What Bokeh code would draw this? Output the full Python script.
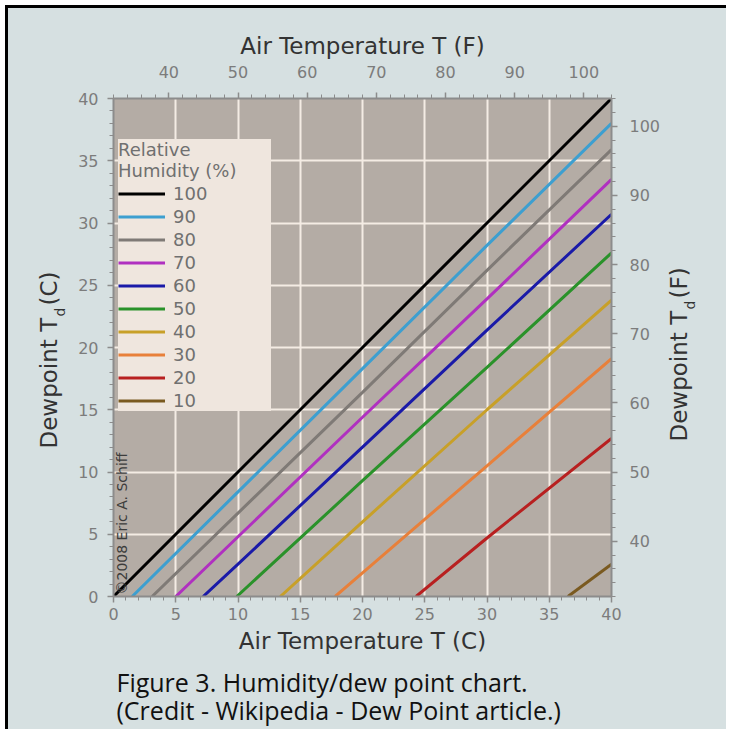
import math
from bokeh.plotting import figure
from bokeh.layouts import row, column
from bokeh.models import Range1d, LinearAxis, Label, Legend, LegendItem, FixedTicker
from bokeh.embed import file_html
from bokeh.resources import INLINE

# ---- data: air temperature T (C) vs dewpoint Td (C) ----
rh_levels = [100, 90, 80, 70, 60, 50, 40, 30, 20, 10]
colors = ["#000000", "#3d9fd0", "#7f7a76", "#b030c0", "#1a1aa8",
          "#2a922a", "#c8a028", "#e8803a", "#b82020", "#7a5a20"]

t_100 = [0, 10, 20, 30, 40];        td_100 = [0, 10, 20, 30, 40]
t_90 = [1.5, 10, 20, 30, 40];       td_90 = [0, 8.4, 18.3, 28.2, 38.0]
t_80 = [3.1, 10, 20, 30, 40];       td_80 = [0, 6.7, 16.4, 26.2, 35.9]
t_70 = [5.0, 10, 20, 30, 40];       td_70 = [0, 4.8, 14.4, 23.9, 33.5]
t_60 = [7.2, 10, 20, 30, 40];       td_60 = [0, 2.6, 12.0, 21.4, 30.7]
t_50 = [9.9, 20, 30, 40];           td_50 = [0, 9.3, 18.4, 27.6]
t_40 = [13.4, 20, 30, 40];          td_40 = [0, 6.0, 15.0, 23.8]
t_30 = [17.8, 20, 30, 40];          td_30 = [0, 1.9, 10.5, 19.1]
t_20 = [24.3, 30, 40];              td_20 = [0, 4.7, 12.7]
t_10 = [36.5, 40];                  td_10 = [0, 2.6]

series_t = [t_100, t_90, t_80, t_70, t_60, t_50, t_40, t_30, t_20, t_10]
series_td = [td_100, td_90, td_80, td_70, td_60, td_50, td_40, td_30, td_20, td_10]

c_ticks = [0, 5, 10, 15, 20, 25, 30, 35, 40]
c_minor = list(range(0, 41, 1))
f_ticks = [40, 50, 60, 70, 80, 90, 100]
f_minor = list(range(32, 105, 2))

BG = "#d6e0e1"
FRAME = "#b4aca5"
TICK_COL = "#7c7c7c"
TITLE_COL = "#333333"
FONT = "DejaVu Sans"
B_TOP, B_BOT, FRAME_PX = 90, 66, 498
ROW_H = B_TOP + FRAME_PX + B_BOT
TOTAL_W = 718
MAIN_W = 595
CAP_H = 721 - ROW_H
BG_STYLE = {"background-color": BG}

# ---------------- main chart ----------------
p = figure(title=None, width=MAIN_W, height=ROW_H,
           frame_width=FRAME_PX, frame_height=FRAME_PX,
           min_border_left=45, min_border_right=52,
           min_border_top=B_TOP, min_border_bottom=B_BOT,
           x_range=Range1d(0, 40), y_range=Range1d(0, 40),
           output_backend="svg", toolbar_location=None,
           background_fill_color=FRAME, border_fill_color=BG,
           x_axis_label="Air Temperature T (C)", styles=BG_STYLE)
p.outline_line_color = None
p.extra_x_ranges = {"F": Range1d(32, 104)}
p.extra_y_ranges = {"F": Range1d(32, 104)}

p.grid.grid_line_color = "#f4ece4"
p.grid.grid_line_width = 2
p.xgrid.ticker = FixedTicker(ticks=c_ticks)
p.ygrid.ticker = FixedTicker(ticks=c_ticks)

top_ax = LinearAxis(x_range_name="F", axis_label="Air Temperature T (F)")
right_ax = LinearAxis(y_range_name="F")
p.add_layout(top_ax, "above")
p.add_layout(right_ax, "right")

for ax in [p.xaxis[0], p.yaxis[0]]:
    ax.ticker = FixedTicker(ticks=c_ticks, minor_ticks=c_minor)
for ax in [top_ax, right_ax]:
    ax.ticker = FixedTicker(ticks=f_ticks, minor_ticks=f_minor)

for ax in p.xaxis + p.yaxis:
    ax.axis_line_color = "#8c8c8c"
    ax.axis_line_width = 2
    ax.major_tick_line_color = "#8c8c8c"
    ax.minor_tick_line_color = "#8c8c8c"
    ax.major_tick_out = 6
    ax.major_tick_in = 0
    ax.minor_tick_out = 4
    ax.minor_tick_in = 0
    ax.major_tick_line_width = 1.5
    ax.major_label_text_color = TICK_COL
    ax.major_label_text_font = FONT
    ax.major_label_text_font_size = "16px"
    ax.axis_label_text_color = TITLE_COL
    ax.axis_label_text_font = FONT
    ax.axis_label_text_font_size = "23px"
    ax.axis_label_text_font_style = "normal"

p.xaxis[0].major_label_standoff = 11
p.xaxis[0].axis_label_standoff = 0
top_ax.major_label_standoff = 15
top_ax.axis_label_standoff = 4
p.yaxis[0].major_label_standoff = 9
right_ax.major_label_standoff = 12

items = []
for rh, col, tx, ty in zip(rh_levels, colors, series_t, series_td):
    r = p.line(tx, ty, line_color=col, line_width=3)
    items.append(LegendItem(label=str(rh), renderers=[r]))

legend = Legend(items=items, location=(5, 185), margin=0,
                background_fill_color="#efe6de", background_fill_alpha=1.0,
                border_line_color=None,
                title="Relative\nHumidity (%)      ",
                title_text_font=FONT, title_text_font_size="18px",
                title_text_color="#707070", title_text_font_style="normal",
                title_standoff=2,
                label_text_font=FONT, label_text_font_size="18px",
                label_text_color="#707070",
                glyph_width=47, glyph_height=21, label_height=21,
                spacing=2, padding=17, label_standoff=8)
p.add_layout(legend, "center")

p.add_layout(Label(x=8, y=2, x_units="screen", y_units="screen",
                   text="\u00a92008 Eric A. Schiff", angle=math.pi / 2,
                   text_font=FONT, text_font_size="14px",
                   text_color="#3c3c3c", text_align="left",
                   text_baseline="middle"))


# ---------------- strips carrying texts outside the plot frame ----------------
def strip(width, height, top=0, bottom=0):
    s = figure(title=None, width=width, height=height,
               min_border_left=0, min_border_right=0,
               min_border_top=top, min_border_bottom=bottom,
               x_range=Range1d(0, 1), y_range=Range1d(0, 1),
               x_axis_location=None, y_axis_location=None,
               output_backend="svg", toolbar_location=None,
               background_fill_color=BG, border_fill_color=BG, styles=BG_STYLE)
    s.outline_line_color = None
    s.grid.visible = False
    return s


def side_title(s, x, y, unit):
    main_len = 131
    s.add_layout(Label(x=x, y=y, x_units="screen", y_units="screen",
                       text="Dewpoint T", angle=math.pi / 2,
                       text_font=FONT, text_font_size="23px",
                       text_color=TITLE_COL, text_align="left",
                       text_baseline="alphabetic"))
    s.add_layout(Label(x=x + 11, y=y + main_len + 1, x_units="screen", y_units="screen",
                       text="d", angle=math.pi / 2,
                       text_font=FONT, text_font_size="14px",
                       text_color=TITLE_COL, text_align="left",
                       text_baseline="alphabetic"))
    s.add_layout(Label(x=x, y=y + main_len + 12, x_units="screen", y_units="screen",
                       text="(" + unit + ")", angle=math.pi / 2,
                       text_font=FONT, text_font_size="23px",
                       text_color=TITLE_COL, text_align="left",
                       text_baseline="alphabetic"))


left = strip(60, ROW_H, B_TOP, B_BOT)
side_title(left, 40, 148, "C")
right = strip(TOTAL_W - 60 - MAIN_W, ROW_H, B_TOP, B_BOT)
side_title(right, 15, 155, "F")

cap = strip(TOTAL_W, CAP_H)
cap.add_layout(Label(x=108, y=48, x_units="screen", y_units="screen",
                     text="Figure 3. Humidity/dew point chart.",
                     text_font="Open Sans", text_font_size="25px",
                     text_color="#111111", text_align="left",
                     text_baseline="alphabetic"))
cap.add_layout(Label(x=108, y=20, x_units="screen", y_units="screen",
                     text="(Credit - Wikipedia - Dew Point article.)",
                     text_font="Open Sans", text_font_size="25px",
                     text_color="#111111", text_align="left",
                     text_baseline="alphabetic"))

inner = column(row(left, p, right, spacing=0, styles=BG_STYLE),
               cap, spacing=0,
               styles={"background-color": BG, "overflow": "hidden"})
layout = column(inner, spacing=0,
                styles={"margin-left": "5px", "margin-top": "5px",
                        "background-color": BG, "overflow": "hidden",
                        "border-left": "3px solid #000000",
                        "border-top": "3px solid #000000"})

open("out.html", "w").write(file_html(layout, INLINE))
